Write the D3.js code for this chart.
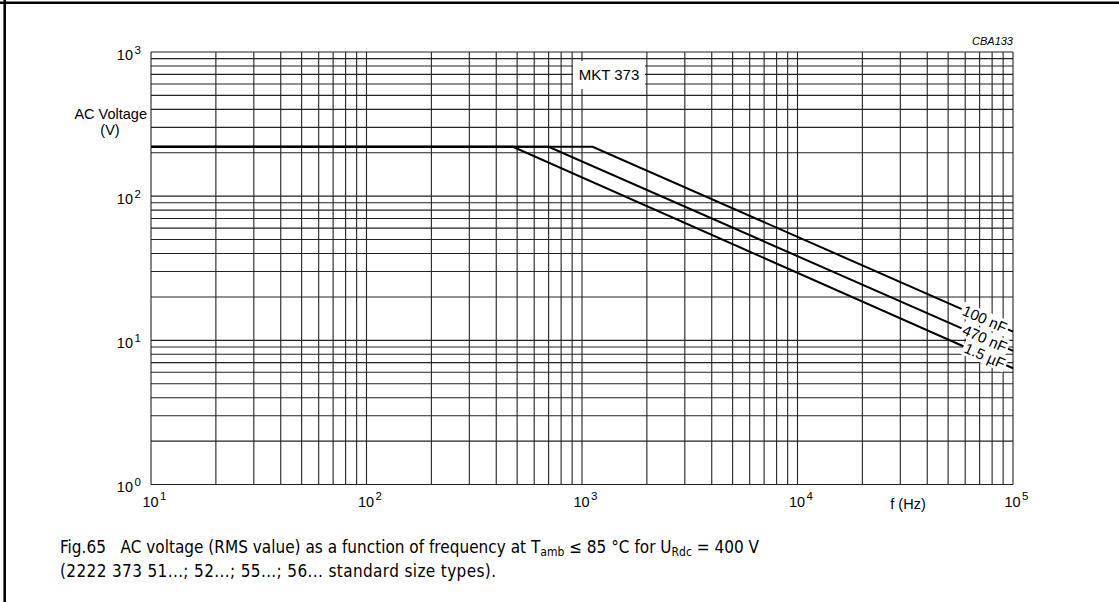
<!DOCTYPE html>
<html><head><meta charset="utf-8">
<script src="https://cdn.jsdelivr.net/npm/d3@7"></script>
<style>
html,body{margin:0;padding:0;background:#fff;}
svg{display:block;}
text{font-family:"Liberation Sans",Arial,sans-serif;fill:#000;}
</style></head>
<body>
<svg id="chart" width="1119" height="602"></svg>
<script>
// ---- data ----
const xDecades = [10, 100, 1000, 10000, 100000];
const yDecades = [1, 10, 100, 1000];
const xTickExp = ["1", "2", "3", "4", "5"];
const yTickExp = ["0", "1", "2", "3"];
const seriesNames = ["100 nF", "470 nF", "1.5 \u00b5F"];
const freq100n = [10, 1120, 100000];
const volt100n = [220, 220, 11.5];
const freq470n = [10, 700, 100000];
const volt470n = [220, 220, 8.45];
const freq1u5 = [10, 478, 100000];
const volt1u5 = [220, 220, 6.4];
const labelFreq = 74000;
const chartTag = "CBA133";
const productLabel = "MKT 373";
const yTitle = ["AC Voltage", "(V)"];
const xTitle = "f (Hz)";

const svg = d3.select("#chart");
const x = d3.scaleLog().domain([10, 100000]).range([151, 1013]);
const y = d3.scaleLog().domain([1, 1000]).range([484.5, 52]);

// frame (top & left)
svg.append("line").attr("x1",0).attr("x2",1119).attr("y1",2.8).attr("y2",2.8).attr("stroke","#000").attr("stroke-width",2.6);
svg.append("line").attr("x1",4.7).attr("x2",4.7).attr("y1",0).attr("y2",602).attr("stroke","#000").attr("stroke-width",2.6);

// grid values
const xGrid = [];
xDecades.slice(0,-1).forEach(d => { for (let m=1;m<10;m++) xGrid.push(d*m); });
xGrid.push(100000);
const yGrid = [];
yDecades.slice(0,-1).forEach(d => { for (let m=1;m<10;m++) yGrid.push(d*m); });
yGrid.push(1000);

const grid = svg.append("g");
grid.selectAll(".vg").data(xGrid).join("line")
  .attr("x1", d => x(d)).attr("x2", d => x(d))
  .attr("y1", y(1000)).attr("y2", y(1))
  .attr("stroke", "#222").attr("stroke-width", 1.1);
grid.selectAll(".hg").data(yGrid).join("line")
  .attr("y1", d => y(d)).attr("y2", d => y(d))
  .attr("x1", x(10)).attr("x2", x(100000))
  .attr("stroke", "#222").attr("stroke-width", 1.1);

// curves
const series = [
  {name: seriesNames[0], f: freq100n, v: volt100n},
  {name: seriesNames[1], f: freq470n, v: volt470n},
  {name: seriesNames[2], f: freq1u5, v: volt1u5}
];
const line = d3.line().x(d => x(d[0])).y(d => y(d[1]));
svg.append("g").selectAll("path").data(series).join("path")
  .attr("d", s => line(s.f.map((f,i)=>[f, s.v[i]])))
  .attr("fill","none").attr("stroke","#000").attr("stroke-width",2);

// curve labels
series.forEach(s => {
  const f1 = s.f[1], f2 = s.f[2], v1 = s.v[1], v2 = s.v[2];
  const t = Math.log(labelFreq/f1)/Math.log(f2/f1);
  const lv = Math.exp(Math.log(v1) + t*(Math.log(v2)-Math.log(v1)));
  const px = x(labelFreq), py = y(lv);
  const ang = Math.atan2(y(v2)-y(v1), x(f2)-x(f1))*180/Math.PI;
  const g = svg.append("g").attr("transform", `translate(${px},${py}) rotate(${ang})`);
  const txt = g.append("text").attr("text-anchor","middle").attr("dy","0.35em")
    .attr("font-size", 15).text(s.name);
  const w = txt.node().getComputedTextLength();
  g.insert("rect","text").attr("x",-w/2-2).attr("y",-8).attr("width",w+4).attr("height",16).attr("fill","#fff");
});

// product label
{
  const g = svg.append("g").attr("transform", `translate(${609},${75})`);
  g.append("rect").attr("x",-36).attr("y",-14).attr("width",72).attr("height",28).attr("fill","#fff");
  g.append("text").attr("text-anchor","middle").attr("dy","0.36em").attr("font-size",15).text(productLabel);
}

// tag
svg.append("text").attr("x",1013).attr("y",45).attr("text-anchor","end")
  .attr("font-size",11).attr("font-style","italic").text(chartTag);

// y tick labels
yDecades.forEach((d,i) => {
  svg.append("text").attr("x",133).attr("y",y(d)+7.5).attr("text-anchor","end").attr("font-size",14.5).text("10");
  svg.append("text").attr("x",134.5).attr("y",y(d)+1.5).attr("font-size",11.5).text(yTickExp[i]);
});
// x tick labels
xDecades.forEach((d,i) => {
  svg.append("text").attr("x",x(d)-0.5).attr("y",507).attr("text-anchor","middle").attr("font-size",14.5).text("10");
  svg.append("text").attr("x",x(d)+9).attr("y",500).attr("font-size",11.5).text(xTickExp[i]);
});

// axis titles
svg.append("text").attr("x",147).attr("y",118.5).attr("text-anchor","end").attr("font-size",14.5).text(yTitle[0]);
svg.append("text").attr("x",110).attr("y",135).attr("text-anchor","middle").attr("font-size",14.5).text(yTitle[1]);
svg.append("text").attr("x",908).attr("y",509).attr("text-anchor","middle").attr("font-size",14.5).text(xTitle);

// caption
const capFont = '"Liberation Sans Narrow","DejaVu Sans Condensed",sans-serif';
const c1 = svg.append("text").attr("x",60).attr("y",553).attr("font-size",17).style("font-family",capFont)
  .attr("textLength",699).attr("lengthAdjust","spacing");
c1.append("tspan").text("Fig.65\u00a0\u00a0\u00a0AC voltage (RMS value) as a function of frequency at T");
c1.append("tspan").attr("font-size",12).attr("dy",3).text("amb");
c1.append("tspan").attr("dy",-3).text(" \u2264 85 \u00b0C for U");
c1.append("tspan").attr("font-size",12).attr("dy",3).text("Rdc");
c1.append("tspan").attr("dy",-3).text(" = 400 V");
svg.append("text").attr("x",60).attr("y",577).attr("font-size",17).style("font-family",capFont)
  .attr("textLength",436).attr("lengthAdjust","spacing")
  .text("(2222 373 51...; 52...; 55...; 56... standard size types).");
</script>
</body></html>
